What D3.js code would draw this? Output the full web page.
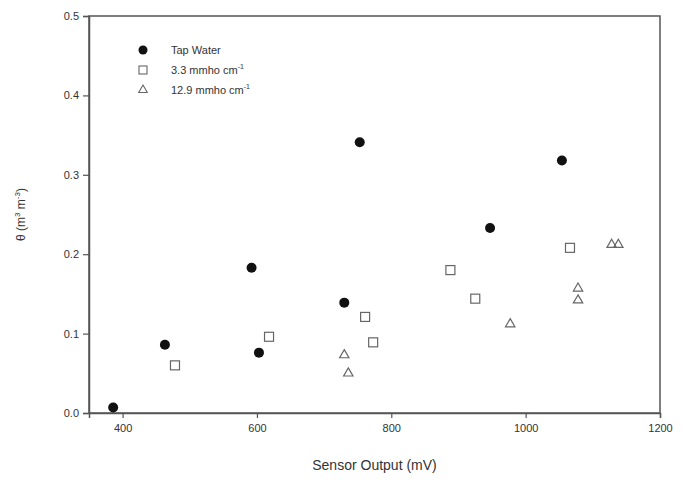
<!DOCTYPE html>
<html>
<head>
<meta charset="utf-8">
<script src="https://cdn.jsdelivr.net/npm/d3@7"></script>
<style>
  body { margin: 0; background: #fff; }
  text { font-family: "Liberation Sans", Arial, sans-serif; fill: #333; }
</style>
</head>
<body>
<div id="chart"></div>
<script>
var width = 683, height = 482;

// values
var tapX = [386, 463, 592, 603, 730, 753, 947, 1054];
var tapY = [0.007, 0.086, 0.183, 0.076, 0.139, 0.341, 0.233, 0.318];
var lowX = [478, 618, 761, 773, 888, 925, 1066];
var lowY = [0.060, 0.096, 0.121, 0.089, 0.180, 0.144, 0.208];
var highX = [730, 736, 977, 1078, 1078, 1128, 1138];
var highY = [0.073, 0.050, 0.112, 0.157, 0.142, 0.212, 0.212];
var xTicks = [400, 600, 800, 1000, 1200];
var yTicks = [0.0, 0.1, 0.2, 0.3, 0.4, 0.5];
var seriesNames = ["Tap Water", "3.3 mmho cm", "12.9 mmho cm"];

var margin = {left: 89, right: 23, top: 16, bottom: 69};

var svg = d3.select("#chart").append("svg")
    .attr("width", width).attr("height", height);

var x = d3.scaleLinear().domain([350, 1200]).range([margin.left, width - margin.right]);
var y = d3.scaleLinear().domain([0, 0.5]).range([height - margin.bottom, margin.top]);

var axisColor = "#555";

// frame
svg.append("rect")
    .attr("x", x(350)).attr("y", y(0.5))
    .attr("width", x(1200) - x(350)).attr("height", y(0) - y(0.5))
    .attr("fill", "none").attr("stroke", axisColor).attr("stroke-width", 1.5);

var xAxis = svg.append("g")
    .attr("transform", "translate(0," + y(0) + ")")
    .call(d3.axisBottom(x).tickValues(xTicks).tickSize(5).tickPadding(6).tickFormat(d3.format("d")));
var yAxis = svg.append("g")
    .attr("transform", "translate(" + x(350) + ",0)")
    .call(d3.axisLeft(y).tickValues(yTicks).tickSize(6).tickPadding(4).tickFormat(d3.format(".1f")));

[xAxis, yAxis].forEach(function (g) {
  g.select(".domain").attr("stroke", axisColor).attr("stroke-width", 1.5);
  g.selectAll(".tick line").attr("stroke", axisColor).attr("stroke-width", 1.2);
  g.selectAll(".tick text").attr("fill", "#333").attr("font-size", 11)
    .attr("font-family", "Liberation Sans, Arial, sans-serif");
});

// axis titles
svg.append("text")
    .attr("x", (x(350) + x(1200)) / 2).attr("y", 470)
    .attr("text-anchor", "middle").attr("font-size", 14)
    .text("Sensor Output (mV)");

var yt = svg.append("text")
    .attr("transform", "translate(25," + ((y(0) + y(0.5)) / 2) + ") rotate(-90)")
    .attr("text-anchor", "middle").attr("font-size", 12);
yt.append("tspan").text("θ (m");
yt.append("tspan").attr("font-size", 8).attr("dy", -5).text("3");
yt.append("tspan").attr("dy", 5).text(" m");
yt.append("tspan").attr("font-size", 8).attr("dy", -5).text("-3");
yt.append("tspan").attr("dy", 5).text(")");

// markers
var sq = 9, tri = d3.symbol().type(d3.symbolTriangle).size(38);

svg.append("g").selectAll("rect")
    .data(d3.zip(lowX, lowY))
    .join("rect")
    .attr("x", d => x(d[0]) - sq / 2).attr("y", d => y(d[1]) - sq / 2)
    .attr("width", sq).attr("height", sq)
    .attr("fill", "none").attr("stroke", "#666").attr("stroke-width", 1.2);

svg.append("g").selectAll("path")
    .data(d3.zip(highX, highY))
    .join("path")
    .attr("d", tri)
    .attr("transform", d => "translate(" + x(d[0]) + "," + y(d[1]) + ")")
    .attr("fill", "none").attr("stroke", "#666").attr("stroke-width", 1.2);

svg.append("g").selectAll("circle")
    .data(d3.zip(tapX, tapY))
    .join("circle")
    .attr("cx", d => x(d[0])).attr("cy", d => y(d[1]))
    .attr("r", 5).attr("fill", "#111");

// legend
var lg = svg.append("g").attr("transform", "translate(143,50)");
lg.append("circle").attr("cx", 0).attr("cy", 0).attr("r", 4.5).attr("fill", "#111");
lg.append("rect").attr("x", -4).attr("y", 16).attr("width", 8).attr("height", 8)
    .attr("fill", "none").attr("stroke", "#666").attr("stroke-width", 1.1);
lg.append("path").attr("d", d3.symbol().type(d3.symbolTriangle).size(32))
    .attr("transform", "translate(0,40)")
    .attr("fill", "none").attr("stroke", "#666").attr("stroke-width", 1.1);

seriesNames.forEach(function (name, i) {
  var t = lg.append("text").attr("x", 28).attr("y", i * 20 + 4).attr("font-size", 11);
  t.append("tspan").text(name);
  if (i > 0) t.append("tspan").attr("font-size", 7).attr("dy", -5).text("-1");
});
</script>
</body>
</html>
